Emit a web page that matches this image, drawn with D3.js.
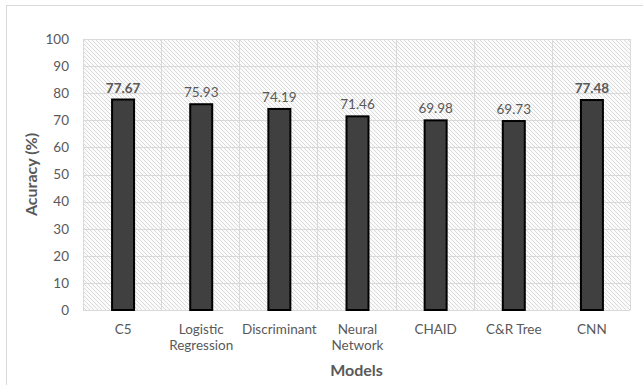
<!DOCTYPE html>
<html>
<head>
<meta charset="utf-8">
<script src="https://cdn.jsdelivr.net/npm/d3@7"></script>
<style>
  html, body { margin: 0; padding: 0; background: #fff; }
  svg { display: block; }
</style>
</head>
<body>
<svg id="chart" width="643" height="385"></svg>
<script>
// Classification accuracy of each model
const models = ["C5", "Logistic Regression", "Discriminant", "Neural Network", "CHAID", "C&R Tree", "CNN"];
const modelLines = [["C5"], ["Logistic", "Regression"], ["Discriminant"], ["Neural", "Network"], ["CHAID"], ["C&R Tree"], ["CNN"]];
const accuracy = [77.67, 75.93, 74.19, 71.46, 69.98, 69.73, 77.48];
const highlighted = [true, false, false, false, false, false, true];
const yTicks = [0, 10, 20, 30, 40, 50, 60, 70, 80, 90, 100];

const svg = d3.select("#chart");
const font = "Lato, 'Open Sans', sans-serif";
const textColor = "#595959";
const labelSize = 13.5;

const plot = { left: 83, right: 630, top: 39, bottom: 310 };

const x = d3.scaleBand().domain(models).range([plot.left, plot.right]).padding(0);
const y = d3.scaleLinear().domain([0, 100]).range([plot.bottom, plot.top]);

// outer chart frame
svg.append("rect")
  .attr("x", 6.5).attr("y", 5.5).attr("width", 645).attr("height", 390)
  .attr("fill", "#fff").attr("stroke", "#d9d9d9").attr("stroke-width", 1);

// diagonal hatch used as the plot background
const defs = svg.append("defs");
const pat = defs.append("pattern")
  .attr("id", "hatch").attr("patternUnits", "userSpaceOnUse")
  .attr("width", 4).attr("height", 4);
pat.append("rect").attr("width", 4).attr("height", 4).attr("fill", "#fbfbfb");
pat.append("path").attr("d", "M-1,-1 L5,5 M-1,3 L1,5 M3,-1 L5,1")
  .attr("stroke", "#d6d6d6").attr("stroke-width", 0.9);

svg.append("rect")
  .attr("x", plot.left).attr("y", plot.top)
  .attr("width", plot.right - plot.left).attr("height", plot.bottom - plot.top)
  .attr("fill", "url(#hatch)");

// horizontal gridlines
svg.append("g").selectAll("line").data(yTicks).join("line")
  .attr("x1", plot.left).attr("x2", plot.right)
  .attr("y1", d => Math.round(y(d)) + 0.5).attr("y2", d => Math.round(y(d)) + 0.5)
  .attr("stroke", "#d9d9d9").attr("stroke-width", 1);

// vertical separators between categories
const bounds = models.map(m => x(m)).concat([plot.right]);
svg.append("g").selectAll("line").data(bounds).join("line")
  .attr("x1", d => Math.round(d) + 0.5).attr("x2", d => Math.round(d) + 0.5)
  .attr("y1", plot.top).attr("y2", plot.bottom)
  .attr("stroke", "#d9d9d9").attr("stroke-width", 1);

// y axis labels
const yAxis = d3.axisLeft(y).tickValues(yTicks).tickSize(0).tickPadding(14);
const gy = svg.append("g").attr("transform", `translate(${plot.left},0)`).call(yAxis);
gy.select(".domain").remove();
gy.selectAll("text")
  .attr("font-family", font).attr("font-size", labelSize).attr("fill", textColor);

// bars
const barW = 22;
svg.append("g").selectAll("rect").data(models).join("rect")
  .attr("x", d => x(d) + x.bandwidth() / 2 - barW / 2 + 1)
  .attr("y", (d, i) => y(accuracy[i]))
  .attr("width", barW)
  .attr("height", (d, i) => y(0) - y(accuracy[i]))
  .attr("fill", "#404040").attr("stroke", "#000").attr("stroke-width", 2);

// value labels
svg.append("g").selectAll("text").data(models).join("text")
  .attr("x", d => x(d) + x.bandwidth() / 2 + 1)
  .attr("y", (d, i) => y(accuracy[i]) - 7)
  .attr("text-anchor", "middle")
  .attr("font-family", font).attr("font-size", labelSize)
  .attr("font-weight", (d, i) => highlighted[i] ? "bold" : "normal")
  .attr("fill", textColor)
  .text((d, i) => accuracy[i].toFixed(2));

// category labels
const xl = svg.append("g").selectAll("text").data(models).join("text")
  .attr("x", d => x(d) + x.bandwidth() / 2 + 1)
  .attr("y", 334)
  .attr("text-anchor", "middle")
  .attr("font-family", font).attr("font-size", labelSize).attr("fill", textColor);
xl.each(function(d, i) {
  d3.select(this).selectAll("tspan").data(modelLines[i]).join("tspan")
    .attr("x", x(d) + x.bandwidth() / 2 + 1)
    .attr("dy", (t, j) => j === 0 ? 0 : 16)
    .text(t => t);
});

// axis titles
svg.append("text")
  .attr("x", (plot.left + plot.right) / 2).attr("y", 376)
  .attr("text-anchor", "middle")
  .attr("font-family", font).attr("font-size", 16).attr("font-weight", "bold")
  .attr("fill", textColor).text("Models");

svg.append("text")
  .attr("transform", `translate(37,${(plot.top + plot.bottom) / 2}) rotate(-90)`)
  .attr("text-anchor", "middle")
  .attr("font-family", font).attr("font-size", 16).attr("font-weight", "bold")
  .attr("fill", textColor).text("Acuracy (%)");
</script>
</body>
</html>
